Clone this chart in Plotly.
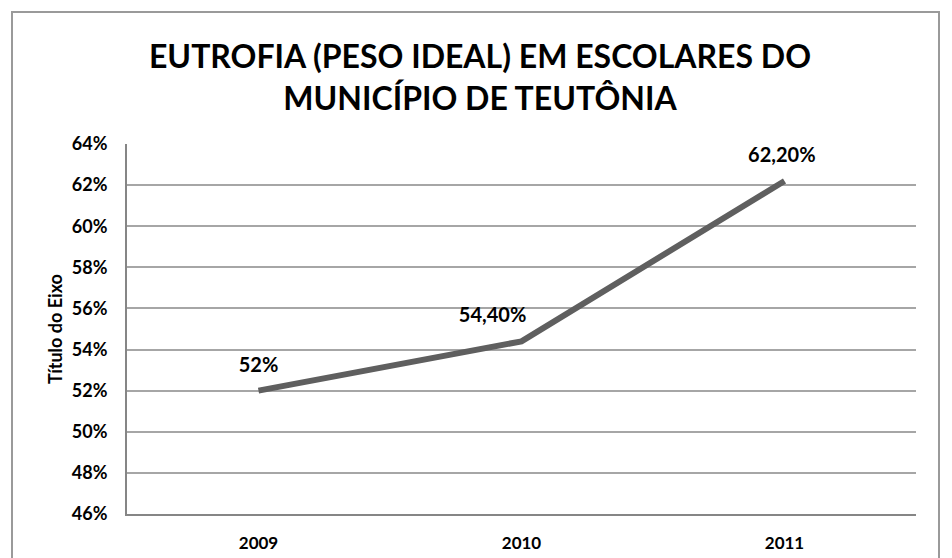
import plotly.graph_objects as go

# data
anos = ['2009', '2010', '2011']
eutrofia = [0.52, 0.544, 0.622]
rotulos = ['52%', '54,40%', '62,20%']
ticks_y = [0.46, 0.48, 0.50, 0.52, 0.54, 0.56, 0.58, 0.60, 0.62, 0.64]

titulo = 'EUTROFIA (PESO IDEAL) EM ESCOLARES DO<br>MUNICÍPIO DE TEUTÔNIA'
fonte = 'Lato'

# label nudges (in category units) so 54,40% sits left of its point like the original
rotulo_dx = [0, -0.11, -0.01]

pos = list(range(len(anos)))

fig = go.Figure()

fig.add_trace(go.Scatter(x=pos, y=eutrofia, mode='lines',
                         line=dict(color='#5f5f5f', width=6),
                         hoverinfo='skip', showlegend=False))

# data labels (invisible markers push the text above the line)
fig.add_trace(go.Scatter(x=[p + d for p, d in zip(pos, rotulo_dx)], y=eutrofia,
                         mode='markers+text',
                         marker=dict(size=21, opacity=0),
                         text=['<b>' + r + '</b>' for r in rotulos],
                         textposition='top center',
                         textfont=dict(family=fonte, size=20, color='black'),
                         hoverinfo='skip', showlegend=False))

# empty trace on a full-size subplot, used only to draw the chart border
fig.add_trace(go.Scatter(x=[], y=[], xaxis='x2', yaxis='y2',
                         hoverinfo='skip', showlegend=False))

fig.update_layout(
    width=944, height=550,
    margin=dict(l=5, r=14, t=5, b=0, autoexpand=False),
    paper_bgcolor='white', plot_bgcolor='rgba(0,0,0,0)',
    title=dict(text='<b>' + titulo + '</b>', x=0.5, xanchor='center',
               y=1 - 60 / 550, yanchor='top',
               font=dict(family=fonte, size=32, color='black')),
    xaxis=dict(domain=[0.12324, 0.97622], range=[-0.5, 2.5],
               tickvals=pos, ticktext=['<b>' + a + '</b>' for a in anos],
               showline=True, linecolor='#868686', linewidth=2,
               showgrid=False, zeroline=False, ticks='', ticklabelstandoff=13,
               tickfont=dict(family=fonte, size=17, color='black')),
    yaxis=dict(domain=[0.08073, 0.75963], range=[0.46, 0.64],
               tickvals=ticks_y,
               ticktext=['<b>%d%%</b>' % round(t * 100) for t in ticks_y],
               showline=True, linecolor='#868686', linewidth=2,
               showgrid=True, gridcolor='#a6a6a6', gridwidth=1.5,
               zeroline=False, ticks='', ticklabelstandoff=14,
               tickfont=dict(family=fonte, size=18, color='black'),
               title=dict(text='<b>Título do Eixo</b>', standoff=4,
                          font=dict(family=fonte, size=18, color='black'))),
    xaxis2=dict(domain=[0, 1], anchor='y2', side='top', range=[0, 1],
                showline=True, linecolor='#9a9a9a', linewidth=1.5,
                showgrid=False, zeroline=False, showticklabels=False, ticks=''),
    yaxis2=dict(domain=[0, 1], anchor='x2', range=[0, 1],
                showline=True, mirror=True, linecolor='#9a9a9a', linewidth=1.5,
                showgrid=False, zeroline=False, showticklabels=False, ticks=''),
)

fig.write_html('out.html')
